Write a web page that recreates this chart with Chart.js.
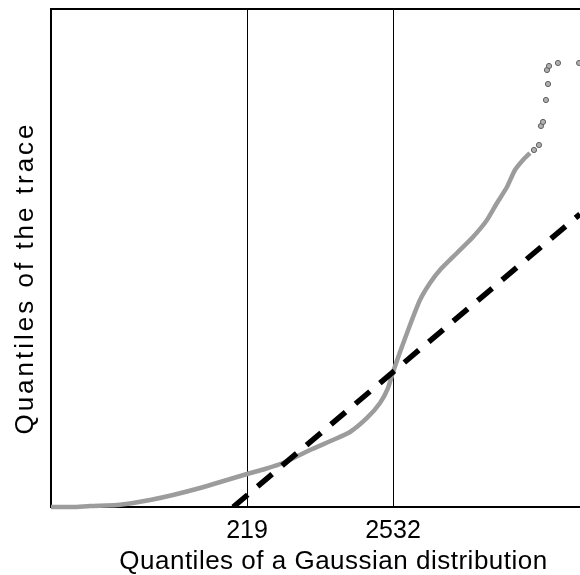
<!DOCTYPE html>
<html>
<head>
<meta charset="utf-8">
<script src="https://cdn.jsdelivr.net/npm/chart.js@4/dist/chart.umd.min.js"></script>
<style>
  html, body { margin: 0; padding: 0; background: #fff; }
  #wrap { width: 580px; height: 575px; position: relative; }
</style>
</head>
<body>
<div id="wrap"><canvas id="c"></canvas></div>
<script>
// ---- data ----
const xTickValues = [219, 2532];
const xLabel = "Quantiles of a Gaussian distribution";
const yLabel = "Quantiles of the trace";

// dense part of the Q-Q trace (Gaussian quantile, trace quantile)
const traceGauss = [-2886, -2537, -2268, -1840, -1587, -1317, -953, -525, -98, 219, 504, 789, 1217, 1581, 1851, 2120, 2326, 2452, 2532, 2643, 2801, 2959, 3118, 3276, 3545, 3799, 4021, 4179, 4337, 4464, 4591, 4702];
const traceVals  = [0, 0, 19, 38, 75, 131, 225, 356, 507, 619, 713, 825, 1069, 1257, 1407, 1670, 1951, 2232, 2533, 2908, 3414, 3883, 4202, 4446, 4765, 5065, 5384, 5703, 6003, 6322, 6510, 6641];

// sparse upper tail
const tailGauss = [4765, 4844, 4876, 4908, 4955, 4987, 4971, 5003, 5145, 5480];
const tailVals  = [6697, 6791, 7148, 7223, 7635, 7935, 8198, 8273, 8329, 8329];

// reference line y = x
const refGauss = [0, 5494];
const refVals  = [0, 5494];

const xRange = [-2886, 5494];
const yRange = [0, 9342];

const toPts = (xs, ys) => xs.map((x, i) => ({ x: x, y: ys[i] }));

const FONT = "'Liberation Sans', Arial, Helvetica, sans-serif";

const frame = {
  id: 'frame',
  afterDatasetsDraw(chart) {
    const { ctx, chartArea: a } = chart;
    ctx.save();
    ctx.strokeStyle = '#000';
    ctx.lineWidth = 2;
    ctx.beginPath();
    ctx.moveTo(a.left, a.top);
    ctx.lineTo(a.right, a.top);
    ctx.stroke();
    ctx.restore();
  }
};

// letter spacing / offset of the axis titles (style only)
const titleStyle = {
  id: 'titleStyle',
  beforeDraw(chart) {
    const tweaks = { x: { spacing: '0.5px', dx: 18, dy: 2 }, y: { spacing: '3px', dx: 0, dy: 20 } };
    for (const id of ['x', 'y']) {
      const s = chart.scales[id];
      if (!s || s._styled) continue;
      const orig = s.drawTitle.bind(s);
      const t = tweaks[id];
      s.drawTitle = function () {
        const ctx = this.ctx;
        ctx.save();
        if ('letterSpacing' in ctx) ctx.letterSpacing = t.spacing;
        ctx.translate(t.dx, t.dy);
        orig();
        ctx.restore();
      };
      s._styled = true;
    }
  }
};

new Chart(document.getElementById('c'), {
  type: 'scatter',
  data: {
    datasets: [
      {
        data: toPts(traceGauss, traceVals),
        showLine: true,
        borderColor: '#9c9c9c',
        borderWidth: 4.5,
        pointRadius: 0,
        tension: 0.2,
        clip: 3,
        order: 2
      },
      {
        data: toPts(tailGauss, tailVals),
        showLine: false,
        pointRadius: 2.6,
        pointBackgroundColor: '#b0b0b0',
        pointBorderColor: '#606060',
        pointBorderWidth: 1,
        clip: 3,
        order: 2
      },
      {
        data: toPts(refGauss, refVals),
        showLine: true,
        borderColor: '#000',
        borderWidth: 5.5,
        borderDash: [19, 13],
        pointRadius: 0,
        clip: 0,
        order: 1
      }
    ]
  },
  options: {
    responsive: true,
    maintainAspectRatio: false,
    animation: false,
    events: [],
    layout: { autoPadding: false, padding: { top: 9, right: 0, left: 0, bottom: 0 } },
    plugins: { legend: { display: false }, tooltip: { enabled: false } },
    scales: {
      x: {
        type: 'linear',
        min: xRange[0],
        max: xRange[1],
        afterBuildTicks(axis) { axis.ticks = xTickValues.map(v => ({ value: v })); },
        afterFit(axis) { axis.height = 68; axis.paddingLeft = 0; axis.paddingRight = 0; },
        ticks: {
          autoSkip: false,
          maxRotation: 0,
          color: '#000',
          padding: 9,
          font: { family: FONT, size: 25 },
          callback: (v) => String(v)
        },
        grid: { color: '#000', lineWidth: 1, drawTicks: false },
        border: { display: true, color: '#000', width: 2 },
        title: {
          display: true,
          text: xLabel,
          color: '#000',
          font: { family: FONT, size: 26 },
          padding: { top: 0, bottom: 0 }
        }
      },
      y: {
        type: 'linear',
        min: yRange[0],
        max: yRange[1],
        afterFit(axis) { axis.width = 51; axis.paddingTop = 0; axis.paddingBottom = 0; },
        ticks: { display: false },
        grid: { display: false, drawTicks: false },
        border: { display: true, color: '#000', width: 2 },
        title: {
          display: true,
          text: yLabel,
          color: '#000',
          font: { family: FONT, size: 26 },
          padding: { top: 10, bottom: 0 }
        }
      }
    }
  },
  plugins: [frame, titleStyle]
});
</script>
</body>
</html>
